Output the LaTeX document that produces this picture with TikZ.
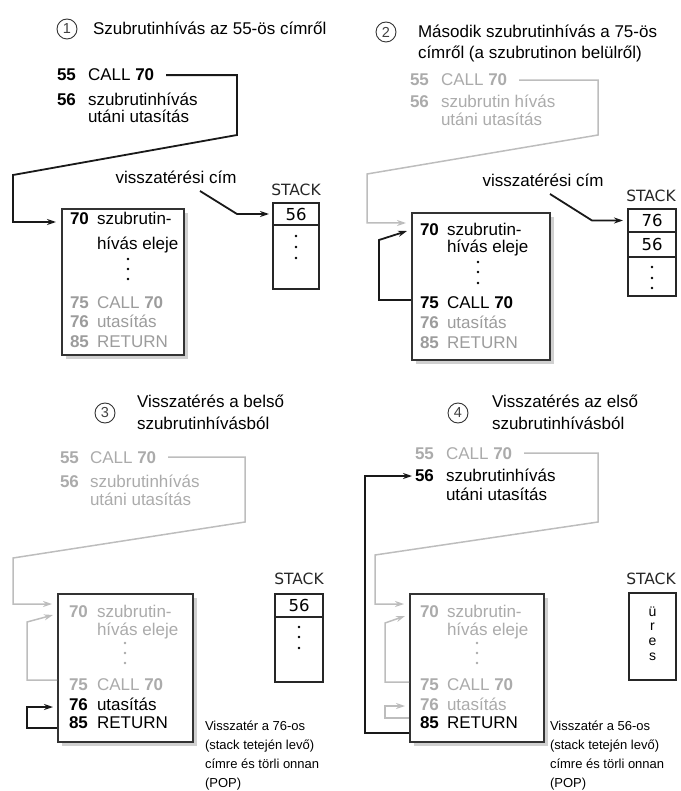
\documentclass[tikz,border=0pt]{standalone}
\usepackage{fontspec}
\setmainfont{Liberation Sans}
\newfontfamily\stackfont{DejaVu Sans}
\usetikzlibrary{arrows.meta,shadows,calc}
\definecolor{lgray}{HTML}{ABABAB}
\definecolor{mgray}{HTML}{9C9C9C}
\definecolor{lline}{HTML}{BDBDBD}
\definecolor{boxc}{HTML}{333333}
\definecolor{shad}{HTML}{D0D0D0}
\newcommand\fsmain{\fontsize{17}{19}\selectfont}
\newcommand\fssmall{\fontsize{13}{15}\selectfont}
\newcommand\fsstack{\stackfont\fontsize{16.5}{18}\selectfont}
\newcommand\fsstacklbl{\stackfont\fontsize{15.5}{18}\selectfont}
\newcommand\fsures{\fontsize{14}{16}\selectfont}
\newcommand\fscirc{\fontsize{14.5}{16}\selectfont}
\newcommand\crow[7]{%
  \node[numtxt,text=#7] (#1n) at (#2,#4) {#5};
  \node[maintxt,text=#7] (#1t) at (#3,#4) {#6};}
\begin{document}
\begin{tikzpicture}[x=1pt,y=-1pt,
  maintxt/.style={inner sep=0pt,outer sep=0pt,anchor=base west,font=\fsmain},
  numtxt/.style={maintxt,font=\fsmain\bfseries},
  smalltxt/.style={inner sep=0pt,outer sep=0pt,anchor=base west,font=\fssmall},
  cnum/.style={circle,draw=black!80,line width=0.9pt,minimum size=20pt,inner sep=0pt,font=\fscirc,text=black!75},
  codebox/.style={draw=boxc,line width=2pt,fill=white,inner sep=0pt,
    drop shadow={shadow xshift=4pt,shadow yshift=-4pt,fill=shad,opacity=1}},
  stk/.style={draw=black!85,line width=1.3pt,inner sep=0pt,font=\fsstack},
  stklbl/.style={inner sep=0pt,anchor=base,font=\fsstacklbl,text=black!85},
  conn/.style={line width=1.8pt,draw=black!90,-{Stealth[length=9pt,width=6pt]}},
  gconn/.style={conn,draw=lline,line width=1.5pt},
  vlbl/.style={inner sep=0pt,anchor=base,font=\fsmain},
  uchar/.style={inner sep=0pt,font=\fsures}]
\useasboundingbox (0,0) rectangle (680,791);

% ================= Panel 1 =================
\node[cnum] (c1) at (67,29) {1};
\node[maintxt] (t1) at (93,35) {Szubrutinhívás az 55-ös címről};
\crow{a55}{57}{88}{81}{55}{CALL \textbf{70}}{black}
\crow{a56}{57}{88}{106}{56}{szubrutinhívás}{black}
\node[maintxt] (a56u) at (88,123) {utáni utasítás};

\node[codebox,minimum width=122pt,minimum height=146pt] (b1) at (123,282) {};
\crow{a70}{70}{97}{225}{70}{szubrutin-}{black}
\node[maintxt] (a70u) at (97,250) {hívás eleje};
\fill (128,259) circle[radius=1.3pt] (128,269) circle[radius=1.3pt] (128,279) circle[radius=1.3pt];
\crow{a75}{70}{97}{308}{75}{CALL \textbf{70}}{mgray}
\crow{a76}{70}{97}{327}{76}{utasítás}{mgray}
\crow{a85}{70}{97}{347}{85}{RETURN}{mgray}

\coordinate (p1a) at (237,135);
\coordinate (p1b) at (13,175);
\coordinate (p1c) at (13,222);
\coordinate (p1t) at (56,222);
\draw[conn] ([xshift=12pt]a55t.east) -| (p1a) -- (p1b) -- (p1c) -- (p1t);

\node[vlbl] (v1) at (176,184) {visszatérési cím};
\node[stklbl] (st1) at (296,196) {STACK};
\node[stk,minimum width=46pt,minimum height=22pt] (s1a) at (296,214) {56};
\node[stk,minimum width=46pt,minimum height=64pt] (s1b) at (296,257) {};
\fill (296,236) circle[radius=1.4pt] (296,247) circle[radius=1.4pt] (296,258) circle[radius=1.4pt];
\coordinate (v1s) at (200,191);
\coordinate (v1b) at (237,214);
\coordinate (v1t) at (269,214);
\draw[conn] (v1s) -- (v1b) -- (v1t);

% ================= Panel 2 =================
\node[cnum] (c2) at (386,32) {2};
\node[maintxt] (t2a) at (418,38) {Második szubrutinhívás a 75-ös};
\node[maintxt] (t2b) at (418,59) {címről (a szubrutinon belülről)};
\crow{b55}{410}{441}{86}{55}{CALL \textbf{70}}{lgray}
\crow{b56}{410}{441}{108}{56}{szubrutin hívás}{lgray}
\node[maintxt,text=lgray] (b56u) at (441,126) {utáni utasítás};

\coordinate (p2a) at (598,135);
\coordinate (p2b) at (367,174);
\coordinate (p2c) at (367,223);
\coordinate (p2t) at (406,223);
\draw[gconn] ([xshift=12pt]b55t.east) -| (p2a) -- (p2b) -- (p2c) -- (p2t);

\node[codebox,minimum width=138pt,minimum height=147pt] (b2) at (481,286.5) {};
\crow{b70}{420}{447}{236}{70}{szubrutin-}{black}
\node[maintxt] (b70u) at (447,253) {hívás eleje};
\fill (478,262) circle[radius=1.3pt] (478,272) circle[radius=1.3pt] (478,283) circle[radius=1.3pt];
\crow{b75}{420}{447}{308}{75}{CALL \textbf{70}}{black}
\crow{b76}{420}{447}{328}{76}{utasítás}{mgray}
\crow{b85}{420}{447}{348}{85}{RETURN}{mgray}

\coordinate (p2d) at (379,300);
\coordinate (p2e) at (379,240);
\coordinate (p2f) at (407,231);
\draw[conn] (b2.west |- p2d) -- (p2d) -- (p2e) -- (p2f);

\node[vlbl] (v2) at (543,187) {visszatérési cím};
\node[stklbl] (st2) at (651,202) {STACK};
\node[stk,minimum width=48pt,minimum height=23pt] (s2a) at (652,220.5) {76};
\node[stk,minimum width=48pt,minimum height=25pt] (s2b) at (652,244.5) {56};
\node[stk,minimum width=48pt,minimum height=39pt] (s2c) at (652,276.5) {};
\fill (652,267) circle[radius=1.3pt] (652,278) circle[radius=1.3pt] (652,288) circle[radius=1.3pt];
\coordinate (v2s) at (550,194);
\coordinate (v2b) at (592,220.5);
\coordinate (v2t) at (623,220.5);
\draw[conn] (v2s) -- (v2b) -- (v2t);

% ================= Panel 3 =================
\node[cnum] (c3) at (105,413) {3};
\node[maintxt] (t3a) at (137,407) {Visszatérés a belső};
\node[maintxt] (t3b) at (137,429) {szubrutinhívásból};
\crow{c55}{60}{90}{463}{55}{CALL \textbf{70}}{lgray}
\crow{c56}{60}{90}{487}{56}{szubrutinhívás}{lgray}
\node[maintxt,text=lgray] (c56u) at (90,505) {utáni utasítás};

\coordinate (p3a) at (245,522);
\coordinate (p3b) at (13,558);
\coordinate (p3c) at (13,604);
\coordinate (p3t) at (52,604);
\draw[gconn] ([xshift=12pt]c55t.east) -| (p3a) -- (p3b) -- (p3c) -- (p3t);

\node[codebox,minimum width=135pt,minimum height=148pt] (b3) at (125.5,668) {};
\crow{c70}{69}{97}{617}{70}{szubrutin-}{lgray}
\node[maintxt,text=lgray] (c70u) at (97,635) {hívás eleje};
\fill[lgray] (125,643) circle[radius=1.3pt] (125,653) circle[radius=1.3pt] (125,663) circle[radius=1.3pt];
\crow{c75}{69}{97}{690}{75}{CALL \textbf{70}}{lgray}
\crow{c76}{69}{97}{710}{76}{utasítás}{black}
\crow{c85}{69}{97}{728}{85}{RETURN}{black}

\coordinate (p3d) at (27,680);
\coordinate (p3e) at (27,622);
\coordinate (p3f) at (53,615);
\draw[gconn] (b3.west |- p3d) -- (p3d) -- (p3e) -- (p3f);
\coordinate (p3g) at (27,728);
\coordinate (p3h) at (27,707);
\coordinate (p3i) at (53,707);
\draw[conn] (b3.west |- p3g) -- (p3g) -- (p3h) -- (p3i);

\node[stklbl] (st3) at (299,584) {STACK};
\node[stk,minimum width=48pt,minimum height=23pt] (s3a) at (299,605.5) {56};
\node[stk,minimum width=48pt,minimum height=65pt] (s3b) at (299,649.5) {};
\fill (299,627) circle[radius=1.4pt] (299,637) circle[radius=1.4pt] (299,648) circle[radius=1.4pt];

\node[smalltxt] (n3a) at (205,730) {Visszatér a 76-os};
\node[smalltxt] (n3b) at (205,749) {(stack tetején levő)};
\node[smalltxt] (n3c) at (205,768) {címre és törli onnan};
\node[smalltxt] (n3d) at (205,787) {(POP)};

% ================= Panel 4 =================
\node[cnum] (c4) at (458,413) {4};
\node[maintxt] (t4a) at (492,407) {Visszatérés az első};
\node[maintxt] (t4b) at (492,429) {szubrutinhívásból};
\crow{d55}{415}{446}{459}{55}{CALL \textbf{70}}{lgray}
\crow{d56}{415}{446}{481}{56}{szubrutinhívás}{black}
\node[maintxt] (d56u) at (446,500) {utáni utasítás};

\coordinate (p4a) at (598,522);
\coordinate (p4b) at (375,555);
\coordinate (p4c) at (375,604);
\coordinate (p4t) at (404,604);
\draw[gconn] ([xshift=12pt]d55t.east) -| (p4a) -- (p4b) -- (p4c) -- (p4t);

\node[codebox,minimum width=134pt,minimum height=148pt] (b4) at (477,668) {};
\crow{d70}{420}{447}{617}{70}{szubrutin-}{lgray}
\node[maintxt,text=lgray] (d70u) at (447,635) {hívás eleje};
\fill[lgray] (477,643) circle[radius=1.3pt] (477,653) circle[radius=1.3pt] (477,663) circle[radius=1.3pt];
\crow{d75}{420}{447}{690}{75}{CALL \textbf{70}}{lgray}
\crow{d76}{420}{447}{710}{76}{utasítás}{lgray}
\crow{d85}{420}{447}{728}{85}{RETURN}{black}

\coordinate (p4d) at (385,682);
\coordinate (p4e) at (385,623);
\coordinate (p4f) at (405,616);
\draw[gconn] (b4.west |- p4d) -- (p4d) -- (p4e) -- (p4f);
\coordinate (p4g) at (385,718);
\coordinate (p4h) at (385,706);
\coordinate (p4i) at (405,706);
\draw[gconn] (b4.west |- p4g) -- (p4g) -- (p4h) -- (p4i);
\coordinate (p4j) at (365,733);
\coordinate (p4k) at (412,476);
\draw[conn] (b4.west |- p4j) -- (p4j) |- (p4k);

\node[stklbl] (st4) at (651,584) {STACK};
\node[stk,minimum width=47pt,minimum height=87pt] (s4) at (652.5,636.5) {};
\node[uchar] (u1) at (652.5,612) {ü};
\node[uchar] (u2) at (652.5,627) {r};
\node[uchar] (u3) at (652.5,642) {e};
\node[uchar] (u4) at (652.5,657) {s};

\node[smalltxt] (n4a) at (550,730) {Visszatér a 56-os};
\node[smalltxt] (n4b) at (550,749) {(stack tetején levő)};
\node[smalltxt] (n4c) at (550,768) {címre és törli onnan};
\node[smalltxt] (n4d) at (550,787) {(POP)};
\end{tikzpicture}
\end{document}
